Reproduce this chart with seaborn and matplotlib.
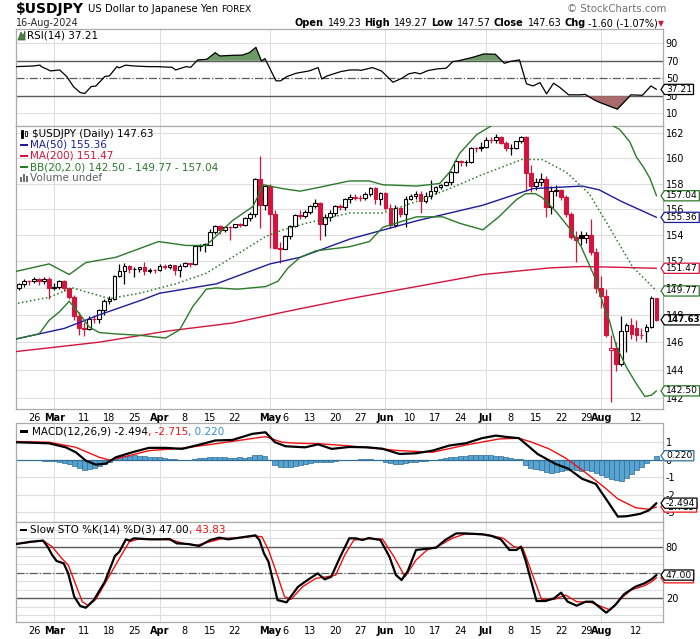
import numpy as np
import pandas as pd
import seaborn as sns
import matplotlib
matplotlib.use("Agg")
import matplotlib.pyplot as plt
from matplotlib import font_manager
from matplotlib.path import Path
from matplotlib.patches import Polygon, Rectangle
from matplotlib.ticker import NullLocator

W, H = 700, 639

# daily bars 20-Feb-2024 .. 16-Aug-2024 (fx trades every weekday)
dates = pd.bdate_range("2024-02-20", "2024-08-16")

opens = [150.10, 149.99, 150.29, 150.51, 150.50, 150.68, 150.50, 150.66, 149.98, 150.10,
         150.51, 150.00, 149.35, 147.88, 147.06, 146.94, 147.69, 147.66, 148.33, 149.05,
         149.14, 150.86, 151.26, 151.62, 151.41, 151.42, 151.55, 151.29, 151.35, 151.34,
         151.65, 151.57, 151.68, 151.35, 151.62, 151.86, 151.78, 153.17, 153.25, 153.27,
         154.23, 154.71, 154.38, 154.64, 154.62, 154.82, 154.80, 155.34, 155.60, 158.33,
         156.35, 157.80, 155.60, 153.00, 152.95, 153.90, 154.68, 155.54, 155.47, 155.77,
         156.23, 156.45, 154.88, 155.40, 155.67, 156.26, 156.17, 156.80, 156.95, 156.90,
         156.85, 157.19, 157.64, 156.81, 157.25, 156.10, 154.80, 156.10, 155.60, 156.75,
         157.05, 157.14, 156.65, 157.04, 157.40, 157.72, 157.85, 158.09, 158.91, 159.78,
         159.70, 159.72, 160.80, 160.78, 160.88, 161.48, 161.46, 161.71, 161.24, 160.78,
         160.82, 161.34, 161.67, 158.86, 157.83, 158.09, 158.36, 156.20, 157.38, 157.47,
         156.97, 155.61, 153.88, 154.00, 153.76, 154.02, 152.74, 149.98, 149.36, 145.40,
         145.55, 144.40, 146.80, 147.22, 147.00, 146.55, 146.80, 147.10, 149.23]
highs = [150.25, 150.35, 150.70, 150.62, 150.85, 150.72, 150.82, 150.85, 150.40, 150.60,
         150.60, 150.10, 149.45, 148.20, 147.50, 147.95, 148.00, 148.40, 149.15, 149.40,
         150.95, 151.82, 151.86, 151.70, 151.55, 151.60, 151.97, 151.50, 151.45, 151.80,
         151.80, 151.80, 151.70, 151.80, 151.95, 151.90, 153.25, 153.30, 153.40, 154.45,
         154.78, 154.80, 154.70, 154.70, 154.86, 154.90, 155.40, 155.75, 158.44, 160.20,
         157.90, 157.99, 155.90, 153.50, 154.00, 154.75, 155.60, 155.90, 155.95, 156.30,
         156.80, 156.55, 155.60, 155.90, 156.30, 156.40, 156.90, 157.20, 157.20, 157.10,
         157.30, 157.70, 157.70, 157.30, 157.30, 156.40, 156.30, 156.20, 157.00, 157.20,
         157.40, 157.40, 157.30, 158.26, 157.80, 158.00, 158.20, 159.00, 159.85, 159.90,
         159.90, 160.87, 160.90, 161.27, 161.72, 161.74, 161.95, 161.80, 161.40, 161.10,
         161.40, 161.80, 161.75, 159.45, 158.40, 158.86, 158.60, 157.80, 157.90, 157.60,
         157.10, 155.80, 154.30, 154.30, 154.20, 155.20, 153.00, 150.90, 149.90, 146.50,
         146.00, 147.90, 147.40, 147.80, 147.60, 147.00, 147.30, 149.40, 149.27]
lows = [149.65, 149.85, 150.10, 150.20, 150.35, 150.25, 150.30, 149.20, 149.85, 149.95,
        149.80, 149.20, 147.60, 146.50, 146.48, 146.90, 147.40, 147.40, 148.00, 148.80,
        149.10, 150.80, 150.26, 151.10, 150.80, 151.20, 151.00, 151.10, 151.15, 151.30,
        151.40, 151.40, 151.00, 150.80, 151.60, 151.60, 151.70, 152.80, 152.70, 153.20,
        154.10, 154.10, 154.20, 153.60, 154.55, 154.60, 154.70, 155.10, 155.40, 154.54,
        155.90, 153.00, 152.90, 151.86, 152.90, 153.70, 154.60, 155.20, 155.30, 155.60,
        156.10, 153.60, 153.90, 155.10, 155.50, 155.90, 155.90, 156.50, 156.70, 156.60,
        156.70, 157.00, 156.40, 156.30, 155.90, 154.55, 154.60, 155.40, 154.60, 156.70,
        156.80, 155.70, 156.50, 156.80, 157.20, 157.60, 157.80, 157.90, 158.80, 159.40,
        159.40, 159.60, 160.50, 160.60, 160.80, 161.20, 161.20, 161.10, 160.60, 160.25,
        160.70, 161.20, 157.40, 157.35, 157.50, 157.80, 155.37, 155.60, 157.00, 156.70,
        155.40, 153.70, 151.94, 153.20, 153.40, 152.50, 149.60, 148.50, 146.40, 141.68,
        143.90, 144.30, 145.30, 146.20, 146.10, 146.20, 146.00, 147.00, 147.57]
closes = [149.99, 150.29, 150.51, 150.50, 150.68, 150.50, 150.66, 149.98, 150.10, 150.51,
          150.00, 149.35, 147.88, 147.06, 146.94, 147.69, 147.66, 148.33, 149.05, 149.14,
          150.86, 151.26, 151.62, 151.41, 151.42, 151.55, 151.29, 151.35, 151.34, 151.65,
          151.57, 151.68, 151.35, 151.62, 151.86, 151.78, 153.17, 153.25, 153.27, 154.23,
          154.71, 154.38, 154.64, 154.62, 154.82, 154.80, 155.34, 155.60, 158.33, 156.35,
          157.80, 155.60, 153.00, 152.95, 153.90, 154.68, 155.54, 155.47, 155.77, 156.23,
          156.45, 154.88, 155.40, 155.67, 156.26, 156.17, 156.80, 156.95, 156.90, 156.85,
          157.19, 157.64, 156.81, 157.25, 156.10, 154.80, 156.10, 155.60, 156.75, 157.05,
          157.14, 156.65, 157.04, 157.40, 157.72, 157.85, 158.09, 158.91, 159.78, 159.70,
          159.72, 160.80, 160.78, 160.88, 161.48, 161.46, 161.71, 161.24, 160.78, 160.82,
          161.34, 161.67, 158.86, 157.83, 158.09, 158.36, 156.20, 157.38, 157.47, 156.97,
          155.61, 153.88, 153.60, 153.76, 154.02, 152.74, 149.98, 149.36, 146.53, 145.55,
          144.40, 146.80, 147.22, 146.62, 146.55, 146.50, 147.10, 149.23, 147.63]

# overlays as (bar, value) vertices
ma50 = [(0, 146.2), (10, 147.0), (17, 148.0), (25.5, 149.1), (29, 149.6), (40.3, 150.3),
        (51, 151.8), (57, 152.3), (67, 153.7), (80.3, 155.1), (93.4, 156.3), (103.4, 157.6),
        (113.2, 157.8), (116.6, 157.5), (121, 156.6), (128, 155.36)]
ma200 = [(0, 145.3), (17, 146.0), (30.4, 146.8), (43.6, 147.4), (55, 148.3), (67, 149.2),
         (93.4, 151.0), (106.8, 151.5), (113.2, 151.6), (120, 151.55), (128, 151.47)]
bb_up = [(0, 151.2), (7, 151.8), (11, 151.0), (14.3, 151.9), (20.3, 152.3), (28.8, 153.5),
         (34.3, 153.2), (38.3, 153.2), (43.5, 155.1), (47.6, 156.2), (49.7, 157.9), (53.5, 157.6),
         (57, 157.4), (60.8, 157.7), (66.8, 158.2), (70.8, 158.2), (73.5, 157.9), (80.2, 157.8),
         (84.8, 158.0), (86.8, 158.9), (88.8, 160.4), (92.2, 161.9), (95.5, 162.7), (99, 163.1),
         (103, 163.3), (107, 163.6), (111, 163.6), (115, 163.3), (118, 162.9), (120.7, 162.3),
         (122.7, 161.3), (124.0, 160.1), (125.4, 159.3), (126.7, 158.4), (128, 157.04)]
bb_mid = [(0, 148.8), (7, 149.3), (11.6, 150.0), (19, 149.2), (25, 149.6), (32.2, 150.3),
          (38.3, 151.1), (43.5, 152.3), (50.2, 153.9), (53.6, 154.4), (58.2, 154.9), (66.8, 155.7),
          (73.5, 155.7), (80.2, 156.6), (86.8, 157.6), (93.3, 158.7), (101.2, 159.9), (105.2, 159.9),
          (110, 158.9), (114.6, 157.2), (118.6, 154.6), (123.2, 151.6), (128, 149.77)]
bb_low = [(0, 146.2), (5, 146.6), (7, 147.6), (9, 148.2), (11, 149.0), (13, 148.1), (15, 147.1),
          (17, 146.7), (20.3, 146.6), (25, 146.5), (30.2, 146.3), (33, 146.9), (35.6, 148.6),
          (38.3, 149.9), (40.3, 150.0), (44.5, 149.9), (50.2, 150.1), (52.6, 150.5), (54.6, 151.5),
          (57, 152.3), (60.2, 152.8), (66.8, 153.1), (70.8, 153.5), (73.5, 154.6), (80.2, 155.4),
          (85.4, 155.4), (88.8, 154.9), (93.4, 154.4), (96.6, 155.4), (100, 156.7), (101.9, 157.2),
          (103.9, 157.2), (105.2, 156.9), (107.8, 155.9), (110.5, 154.6), (113, 153.1),
          (115.7, 150.8), (117.7, 148.4), (118.6, 147.6), (120, 145.7), (122, 144.2),
          (124, 143.0), (125.7, 142.1), (127, 142.2), (128, 142.50)]

rsi = [(0.4, 63.3), (3.7, 64.0), (5.2, 65.0), (5.4, 63.5), (7.3, 58.4), (9.1, 59.5), (10.5, 52.0),
       (11.9, 40.0), (13.2, 33.6), (14.1, 32.5), (15.4, 40.5), (16.3, 41.0), (18.1, 52.0),
       (19.0, 52.7), (20.5, 63.3), (21.0, 62.0), (22.2, 65.0), (24.0, 64.0), (26.7, 63.3),
       (28.5, 63.3), (31.5, 62.5), (32.2, 59.5), (34.3, 63.3), (35.2, 62.5), (36.6, 71.0),
       (38.4, 71.7), (40.1, 79.3), (41.0, 75.5), (43.7, 76.3), (45.5, 76.5), (46.9, 79.3),
       (48.2, 85.4), (49.3, 69.8), (50.0, 72.5), (52.2, 47.0), (53.1, 47.0), (54.4, 52.0),
       (56.2, 55.7), (58.8, 58.4), (60.6, 62.2), (61.3, 49.2), (62.4, 52.7), (65.1, 57.6),
       (66.9, 59.5), (68.6, 59.5), (69.1, 59.0), (71.4, 62.2), (73.2, 58.4), (75.5, 45.4),
       (77.3, 50.0), (78.6, 55.0), (79.9, 56.5), (80.9, 55.0), (82.5, 58.8), (84.3, 60.7),
       (86.1, 61.5), (87.4, 69.0), (88.7, 70.2), (91.4, 74.0), (93.6, 77.8), (95.9, 77.5),
       (97.7, 67.1), (99.0, 69.4), (100.7, 71.0), (102.1, 43.6), (103.4, 41.2), (104.8, 45.0),
       (106.1, 32.1), (107.5, 44.3), (108.7, 39.7), (110.5, 31.0), (112.8, 31.0), (113.8, 31.5),
       (115.8, 24.5), (117.1, 21.4), (120.2, 14.6), (122.9, 31.0), (125.2, 30.5), (126.9, 41.2),
       (128.0, 37.21)]

macd = [(0.4, 0.99), (7, 0.93), (10.3, 0.70), (12.3, 0.42), (14.3, -0.06), (16.3, -0.29),
        (18.3, -0.23), (20.3, 0.13), (23.6, 0.42), (26.9, 0.67), (30.2, 0.67), (33.5, 0.61),
        (36.8, 0.84), (40.1, 1.09), (43.5, 1.12), (47.5, 1.47), (50.1, 1.56), (52.0, 0.99),
        (54.1, 0.76), (58.0, 0.70), (60.6, 0.87), (63.3, 0.61), (66.8, 0.72), (70.4, 0.70),
        (73.4, 0.62), (76.8, 0.32), (80.1, 0.36), (83.4, 0.51), (86.7, 0.80), (90.0, 0.93),
        (93.2, 1.22), (96.0, 1.37), (97.9, 1.30), (100.6, 1.22), (102.6, 0.74), (104.3, 0.32),
        (107.9, -0.25), (110.5, -0.53), (113.2, -1.10), (115.9, -1.39), (118.6, -2.53),
        (120.3, -3.26), (122.1, -3.24), (124.8, -3.10), (126.5, -2.90), (128, -2.494)]
signal = [(0.4, 1.03), (7, 0.99), (12.3, 0.70), (17, 0.13), (19, -0.03), (21.6, 0.13),
          (26.9, 0.51), (33.5, 0.65), (40.1, 0.90), (50.1, 1.31), (53.4, 0.99), (56.5, 0.93),
          (60.5, 0.91), (66.8, 0.78), (76.8, 0.51), (83.4, 0.42), (90.2, 0.84), (96.7, 1.18),
          (100.6, 1.22), (103.2, 0.99), (106.6, 0.61), (109.8, 0.10), (113.2, -0.60),
          (117.6, -1.58), (120.3, -2.25), (123.9, -2.76), (126.5, -2.84), (128, -2.715)]
macd_hist = [-0.01, -0.01, -0.02, -0.03, -0.04, -0.05, -0.06, -0.08, -0.10, -0.14,
             -0.20, -0.27, -0.38, -0.50, -0.58, -0.55, -0.48, -0.38, -0.25, -0.12,
             0.02, 0.12, 0.18, 0.22, 0.24, 0.22, 0.20, 0.17, 0.14, 0.12,
             0.08, 0.05, 0.02, 0.00, -0.02, -0.02, 0.02, 0.07, 0.10, 0.12,
             0.12, 0.13, 0.12, 0.10, 0.10, 0.12, 0.10, 0.12, 0.28, 0.25,
             0.20, -0.05, -0.30, -0.42, -0.42, -0.40, -0.35, -0.30, -0.25, -0.20,
             -0.15, -0.12, -0.15, -0.12, -0.08, -0.05, -0.03, -0.02, 0.00, 0.02,
             0.03, 0.02, 0.00, -0.05, -0.12, -0.22, -0.28, -0.25, -0.20, -0.15,
             -0.12, -0.10, -0.06, -0.03, 0.00, 0.04, 0.08, 0.12, 0.16, 0.20,
             0.22, 0.24, 0.25, 0.26, 0.25, 0.24, 0.22, 0.18, 0.12, 0.08,
             0.05, 0.02, -0.30, -0.50, -0.55, -0.60, -0.70, -0.75, -0.70, -0.65,
             -0.60, -0.55, -0.60, -0.65, -0.62, -0.65, -0.75, -0.88, -1.00, -1.10,
             -1.18, -1.20, -1.05, -0.85, -0.62, -0.42, -0.20, 0.00, 0.22]

sto_k = [(0.4, 83.5), (3.5, 86.3), (5.8, 87.5), (6.7, 80.4), (7.6, 70.6), (8.5, 63.5), (9.9, 60.8),
         (10.8, 49.0), (12.0, 21.6), (13.2, 10.6), (14.3, 8.6), (15.9, 17.6), (18.1, 39.2),
         (20.1, 69.4), (21.0, 74.5), (22.3, 89.0), (23.0, 87.5), (23.9, 90.2), (27.1, 89.0),
         (28.9, 89.0), (31.0, 89.4), (32.4, 84.3), (34.7, 83.5), (36.9, 81.2), (39.1, 88.2),
         (40.9, 91.0), (42.7, 89.0), (45.4, 91.4), (48.1, 93.7), (48.9, 88.2), (49.8, 72.5),
         (50.7, 62.7), (52.5, 17.6), (54.3, 14.9), (56.6, 33.3), (58.7, 42.0), (60.5, 49.0),
         (61.9, 42.0), (63.2, 45.0), (65.0, 68.6), (66.8, 90.2), (68.1, 90.2), (69.4, 88.2),
         (70.7, 90.6), (73.0, 88.2), (74.8, 68.6), (76.1, 47.0), (77.2, 41.2), (78.4, 51.0),
         (80.1, 76.5), (82.3, 78.0), (84.1, 79.2), (85.9, 88.2), (88.1, 96.0), (89.8, 96.0),
         (93.4, 94.9), (95.2, 92.9), (97.0, 89.0), (98.7, 76.5), (100.1, 76.5), (101.0, 80.4),
         (101.9, 64.7), (104.1, 16.5), (105.9, 16.5), (107.6, 19.6), (109.0, 26.3), (110.3, 15.7),
         (112.1, 11.0), (113.9, 15.7), (115.3, 15.7), (117.1, 7.0), (118.0, 2.7), (119.8, 11.8),
         (121.5, 24.3), (123.8, 33.3), (125.6, 37.3), (127.0, 42.0), (128.0, 47.0)]
sto_d = [(0.4, 83.5), (5.8, 87.5), (7.6, 80.4), (9.5, 66.7), (10.8, 58.8), (12.2, 37.3),
         (13.6, 15.7), (14.8, 11.0), (16.3, 18.4), (18.9, 45.0), (21.2, 68.6), (23.0, 86.3),
         (24.8, 89.4), (29.2, 89.0), (31.5, 88.2), (33.7, 84.3), (36.4, 82.0), (39.1, 86.3),
         (41.8, 90.2), (45.4, 91.0), (48.1, 92.9), (49.4, 92.0), (50.7, 76.5), (52.1, 53.0),
         (53.9, 21.6), (55.2, 18.4), (57.5, 33.3), (60.1, 43.0), (62.3, 45.0), (64.1, 47.0),
         (65.9, 70.6), (67.7, 88.2), (70.3, 89.8), (73.4, 89.4), (75.7, 68.6), (77.9, 45.0),
         (80.1, 64.7), (82.3, 76.5), (84.6, 81.2), (87.3, 90.2), (89.8, 95.3), (94.3, 94.5),
         (97.5, 90.2), (99.6, 80.4), (101.4, 78.4), (103.2, 49.0), (105.1, 18.4), (107.6, 18.4),
         (109.9, 23.5), (112.1, 15.7), (114.9, 14.9), (117.1, 9.8), (118.8, 5.9), (120.6, 17.6),
         (122.9, 29.4), (125.6, 34.5), (127.0, 39.0), (128.0, 43.83)]

tick_days = ["02-26", "03-01", "03-11", "03-18", "03-25", "04-01", "04-08", "04-15", "04-22",
             "05-01", "05-06", "05-13", "05-20", "05-27", "06-03", "06-10", "06-17", "06-24",
             "07-01", "07-08", "07-15", "07-22", "07-29", "08-01", "08-12"]
tick_text = ["26", "Mar", "11", "18", "25", "Apr", "8", "15", "22", "May", "6", "13", "20",
             "27", "Jun", "10", "17", "24", "Jul", "8", "15", "22", "29", "Aug", "12"]
months = ["Mar", "Apr", "May", "Jun", "Jul", "Aug"]
price_ticks = [142, 144, 146, 148, 150, 152, 154, 156, 158, 160, 162]

RED = "#d4143c"
NAVY = "#1c1c9c"
GREEN = "#2a7a2a"
GRID = "#dedede"
DARK = "#5a5a5a"

sns.set_theme(style="white")
plt.rcParams["font.family"] = ["DejaVu Sans"]

# the header uses a narrow face when one is installed
installed = {f.name for f in font_manager.fontManager.ttflist}
NARROW = "Liberation Sans Narrow" in installed
HEAD_FONT = ["Liberation Sans Narrow", "DejaVu Sans"] if NARROW else ["DejaVu Sans"]
HS = 1.3 if NARROW else 1.0

fig = plt.figure(figsize=(W / 100, H / 100), dpi=100)
fig.patch.set_facecolor("white")


def panel(top, bottom):
    return fig.add_axes([16 / W, 1 - bottom / H, 647 / W, (bottom - top) / H])


ax_r = panel(29, 126)
ax_p = panel(126, 409)
ax_m = panel(423, 522)
ax_s = panel(522, 622)

tick_pos = [dates.get_loc(pd.Timestamp("2024-" + d)) for d in tick_days]
month_pos = [p for p, t in zip(tick_pos, tick_text) if t in months]

for ax in (ax_r, ax_p, ax_m, ax_s):
    ax.set_xlim(0.4, 129.3)
    ax.grid(False)
    for sp in ax.spines.values():
        sp.set_color("#ababab")
        sp.set_linewidth(0.9)
    ax.yaxis.tick_right()
    ax.tick_params(axis="y", length=0, labelsize=7, pad=2, colors="black")
    ax.tick_params(axis="x", length=0, labelsize=7, pad=3, colors="black")
    ax.set_xticks(tick_pos)
    for m in month_pos:
        ax.axvline(m, color=GRID, lw=0.8, zorder=0)

for ax in (ax_r, ax_m):
    ax.set_xticklabels([])
for ax in (ax_p, ax_s):
    ax.set_xticklabels(tick_text)
    for lbl in ax.get_xticklabels():
        if lbl.get_text() in months:
            lbl.set_fontweight("bold")


def xy(pairs):
    a = np.array(pairs, dtype=float)
    return a[:, 0], a[:, 1]


# ---------------- RSI ----------------
ax_r.set_ylim(-4.7, 106.4)
ax_r.set_yticks([10, 30, 50, 70, 90])
for v in (10, 90):
    ax_r.axhline(v, color=GRID, lw=0.8, zorder=0)
ax_r.axhline(70, color=DARK, lw=1.0, zorder=1)
ax_r.axhline(30, color=DARK, lw=1.0, zorder=1)
ax_r.axhline(50, color=DARK, lw=0.9, ls="-.", zorder=1)
rx, ry = xy(rsi)
ax_r.fill_between(rx, ry, 70, where=ry >= 70, interpolate=True, color="#6d9a66", lw=0, zorder=2)
ax_r.fill_between(rx, ry, 30, where=ry <= 30, interpolate=True, color="#a86c6c", lw=0, zorder=2)
sns.lineplot(x=rx, y=ry, ax=ax_r, color="black", linewidth=0.9, zorder=3)

# ---------------- price ----------------
ax_p.set_yscale("log")
ax_p.set_ylim(141.22, 162.59)
ax_p.set_yticks(price_ticks)
ax_p.set_yticklabels([str(t) for t in price_ticks])
ax_p.yaxis.set_minor_locator(NullLocator())
for t in price_ticks:
    ax_p.axhline(t, color=GRID, lw=0.8, zorder=0)

o, hi, lo, c = (np.array(v) for v in (opens, highs, lows, closes))
bx = np.arange(len(c))
prev = np.r_[o[0], c[:-1]]
col = np.where(c >= prev, "black", RED)
face = np.where(c < o, col, "white")
body_lo = np.minimum(o, c)
body_h = np.maximum(np.abs(c - o), 0.03)
ax_p.vlines(bx, lo, hi, colors=col, lw=0.9, zorder=2)
ax_p.bar(bx, body_h, bottom=body_lo, width=0.74, color=face, edgecolor=col, linewidth=0.8, zorder=2.2)

for pairs, color, ls, lw in ((ma200, RED, "-", 1.0), (ma50, NAVY, "-", 1.0),
                             (bb_up, GREEN, "-", 1.0), (bb_low, GREEN, "-", 1.0),
                             (bb_mid, GREEN, ":", 1.1)):
    px_, py_ = xy(pairs)
    sns.lineplot(x=px_, y=py_, ax=ax_p, color=color, linewidth=lw, linestyle=ls, zorder=3)

# ---------------- MACD ----------------
ax_m.set_ylim(-3.57, 2.09)
ax_m.set_yticks([1, 0, -1, -2, -3])
ax_m.set_yticklabels(["1", "0", "-1", "-2", "-3"])
for v in (1, -1, -2, -3):
    ax_m.axhline(v, color=GRID, lw=0.8, zorder=0)
ax_m.bar(bx, macd_hist, width=1.0, color="#58a3cf", edgecolor="#2f6f98", linewidth=0.5, zorder=2)
ax_m.axhline(0, color="#2f6f98", lw=0.9, zorder=2.1)
sx, sy = xy(signal)
sns.lineplot(x=sx, y=sy, ax=ax_m, color="#f01010", linewidth=1.0, zorder=3)
mx, my = xy(macd)
sns.lineplot(x=mx, y=my, ax=ax_m, color="black", linewidth=1.6, zorder=4)

# ---------------- Slow stochastic ----------------
ax_s.set_ylim(-8.2, 109.4)
ax_s.set_yticks([20, 80])
for v in range(0, 101, 10):
    ax_s.axhline(v, color=GRID, lw=0.8, zorder=0)
ax_s.axhline(80, color=DARK, lw=1.0, zorder=1)
ax_s.axhline(20, color=DARK, lw=1.0, zorder=1)
ax_s.axhline(50, color=DARK, lw=0.9, ls="-.", zorder=1)
dx, dy = xy(sto_d)
sns.lineplot(x=dx, y=dy, ax=ax_s, color="#f01010", linewidth=1.0, zorder=3)
kx, ky = xy(sto_k)
sns.lineplot(x=kx, y=ky, ax=ax_s, color="black", linewidth=1.6, zorder=4)


# ---------------- value tags on the right edge ----------------
def tag_shape(x0, y0, width, height, mutation_size):
    l, r = x0 - 1.5, x0 + width + 1.5
    b, t = y0 - 0.6, y0 + height + 0.6
    verts = [(l, b), (r, b), (r, t), (l, t), (l - 3.5, (b + t) / 2), (l, b)]
    codes = [Path.MOVETO] + [Path.LINETO] * 4 + [Path.CLOSEPOLY]
    return Path(verts, codes)


def tag(ax, v, s, ec, bold=False, z=6):
    ax.annotate(s, xy=(1, v), xycoords=("axes fraction", "data"), xytext=(3, 0),
                textcoords="offset pixels", ha="left", va="center",
                fontsize=6.2 if bold else 6.6,
                fontweight="bold" if bold else "normal", color="black",
                bbox=dict(boxstyle=tag_shape, fc="white", ec=ec, lw=0.9),
                annotation_clip=False, zorder=z)


tag(ax_r, 37.21, "37.21", "black")
tag(ax_p, 157.04, "157.04", GREEN)
tag(ax_p, 155.36, "155.36", NAVY)
tag(ax_p, 151.47, "151.47", RED)
tag(ax_p, 149.77, "149.77", GREEN)
tag(ax_p, 147.63, "147.63", "black", bold=True)
tag(ax_p, 142.50, "142.50", GREEN)
tag(ax_m, 0.220, "0.220", "#2f6f98")
tag(ax_m, -2.715, "-2.715", "#f01010", z=6)
tag(ax_m, -2.494, "-2.494", "black", z=7)
tag(ax_s, 43.83, "43.83", "#f01010", z=6)
tag(ax_s, 47.00, "47.00", "black", z=7)

# ---------------- header and panel labels ----------------
fig.canvas.draw()
rend = fig.canvas.get_renderer()


def chain(x, y, parts, size=7.5, gap=0.0, right=False, family=None):
    seq = parts[::-1] if right else parts
    for s, kw in seq:
        t = fig.text(x / W, 1 - y / H, s, ha="right" if right else "left", va="center",
                     fontsize=kw.get("size", size), color=kw.get("color", "black"),
                     fontweight=kw.get("weight", "normal"),
                     family=family or ["DejaVu Sans"])
        bb = t.get_window_extent(renderer=rend)
        g = kw.get("gap", gap)
        x = (bb.x0 - g) if right else (bb.x1 + g)
    return x


chain(16, 9.5, [("$USDJPY", dict(size=10 * HS, weight="bold", gap=4)),
                ("US Dollar to Japanese Yen", dict(size=7.3 * HS, gap=3)),
                ("FOREX", dict(size=6.5 * HS))], family=HEAD_FONT)
fig.text(666 / W, 1 - 9.5 / H, "© StockCharts.com", ha="right", va="center",
         fontsize=7.3, color="#707070")
fig.text(16 / W, 1 - 23.5 / H, "16-Aug-2024", ha="left", va="center",
         fontsize=7 * HS, family=HEAD_FONT)
B = dict(weight="bold", size=7 * HS, gap=2.5)
V = dict(size=7 * HS, gap=4.5)
chain(664, 23.5, [("Open", B), ("149.23", V), ("High", B), ("149.27", V),
                  ("Low", B), ("147.57", V), ("Close", B), ("147.63", V),
                  ("Chg", B), ("-1.60 (-1.07%)", dict(size=7 * HS, gap=3)),
                  ("▼", dict(color=RED, size=5.5))],
      right=True, family=HEAD_FONT)

# RSI label
fig.add_artist(Polygon([(18 / W, 1 - 40 / H), (21 / W, 1 - 32 / H), (23 / W, 1 - 36 / H),
                        (25 / W, 1 - 31 / H), (25 / W, 1 - 40 / H)], closed=True,
                       fc="#4f7f48", ec="#2f5a2a", lw=0.5))
chain(27, 35, [("RSI(14) 37.21", {})])

# price labels
for k, (yy, hh) in enumerate(((129.5, 137.5), (131, 136))):
    xx = 21 + k * 4
    fig.add_artist(Rectangle((xx / W, 1 - hh / H), 2.2 / W, (hh - yy) / H,
                             fc="black" if k == 0 else "white", ec="black", lw=0.6))
chain(31.5, 134, [("$USDJPY (Daily) 147.63", {})])
for yy, s, color in ((145, "MA(50) 155.36", NAVY), (156, "MA(200) 151.47", RED),
                     (167, "BB(20,2.0) 142.50 - 149.77 - 157.04", GREEN)):
    fig.add_artist(Rectangle((20 / W, 1 - (yy + 1) / H), 8 / W, 2 / H, fc=color, ec="none"))
    chain(29.5, yy, [(s, dict(color=color))])
for k, hh in enumerate((5, 8, 6)):
    fig.add_artist(Rectangle(((20 + 3 * k) / W, 1 - 182 / H), 2 / W, hh / H,
                             fc="#707070", ec="none"))
chain(29.5, 178, [("Volume undef", dict(color="#606060"))])

# MACD label
fig.add_artist(Rectangle((20 / W, 1 - 432.5 / H), 8 / W, 2.2 / H, fc="black", ec="none"))
chain(31.5, 431.5, [("MACD(12,26,9) -2.494", {}), (", -2.715", dict(color="#f01010")),
                    (", 0.220", dict(color="#3a8fc4"))])

# Stochastic label
fig.add_artist(Rectangle((20 / W, 1 - 531 / H), 7 / W, 2.2 / H, fc="black", ec="none"))
chain(30.5, 530, [("Slow STO %K(14) %D(3) 47.00", {}), (", 43.83", dict(color="#f01010"))])

fig.savefig("out.png", dpi=100, facecolor="white")
